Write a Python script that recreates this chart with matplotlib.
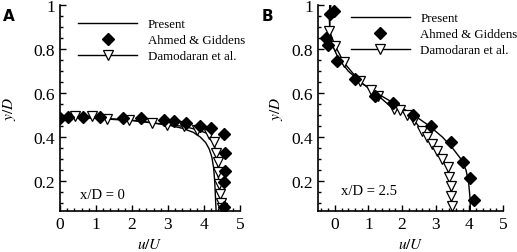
import numpy as np
import matplotlib.pyplot as plt
from matplotlib.ticker import MultipleLocator, FormatStrFormatter
from matplotlib.lines import Line2D

plt.rcParams['font.family'] = 'Liberation Serif'
plt.rcParams['mathtext.fontset'] = 'stix'

# panel A, x/D = 0
present_a_x = [0, 0.5, 1, 1.5, 2, 2.5, 3, 3.4, 3.7, 3.9, 4.05, 4.15, 4.22, 4.27, 4.3, 4.32, 4.34]
present_a_y = [0.49, 0.488, 0.485, 0.48, 0.475, 0.467, 0.455, 0.44, 0.422, 0.40, 0.375, 0.345, 0.31, 0.26, 0.2, 0.13, 0.06]
ahmed_a_x = [0, 0.21, 0.65, 1.12, 1.74, 2.25, 2.89, 3.17, 3.49, 3.88, 4.21, 4.56, 4.58, 4.58, 4.56, 4.56]
ahmed_a_y = [0.486, 0.49, 0.49, 0.49, 0.486, 0.486, 0.477, 0.471, 0.462, 0.451, 0.441, 0.414, 0.327, 0.244, 0.194, 0.08]
damo_a_x = [0, 0.42, 0.9, 1.32, 1.91, 2.56, 2.98, 3.44, 3.82, 4.14, 4.28, 4.33, 4.38, 4.39, 4.42, 4.45, 4.47, 4.51]
damo_a_y = [0.497, 0.497, 0.494, 0.484, 0.479, 0.464, 0.456, 0.449, 0.433, 0.414, 0.376, 0.327, 0.285, 0.24, 0.186, 0.141, 0.10, 0.076]

# panel B, x/D = 2.5
present_b_x = [-0.15, -0.16, -0.14, -0.05, 0.1, 0.4, 0.8, 1.3, 1.8, 2.3, 2.8, 3.2, 3.5, 3.75, 3.9, 3.98, 4.02, 4.03]
present_b_y = [1.0, 0.93, 0.87, 0.81, 0.76, 0.70, 0.645, 0.595, 0.55, 0.505, 0.452, 0.40, 0.35, 0.30, 0.25, 0.19, 0.12, 0.06]
ahmed_b_x = [-0.03, -0.13, -0.26, -0.21, 0.07, 0.59, 1.19, 1.74, 2.31, 2.87, 3.44, 3.81, 4.01, 4.14]
ahmed_b_y = [0.974, 0.959, 0.849, 0.818, 0.747, 0.664, 0.588, 0.553, 0.501, 0.451, 0.379, 0.288, 0.214, 0.115]
damo_b_x = [-0.12, -0.16, 0.01, 0.27, 0.74, 1.07, 1.29, 1.75, 1.94, 2.15, 2.34, 2.60, 2.75, 2.90, 3.05, 3.20, 3.35, 3.40, 3.45, 3.45, 3.48]
damo_b_y = [1.0, 0.883, 0.815, 0.739, 0.653, 0.615, 0.588, 0.527, 0.523, 0.50, 0.479, 0.429, 0.399, 0.368, 0.338, 0.30, 0.262, 0.217, 0.179, 0.133, 0.088]

labels = ['Present', 'Ahmed & Giddens', 'Damodaran et al.']

fig = plt.figure(figsize=(5.17, 2.53), dpi=100)
axA = fig.add_axes([0.116, 0.162, 0.348, 0.814])
axB = fig.add_axes([0.615, 0.162, 0.358, 0.814])


def draw(ax, px, py, ax_x, ax_y, dx, dy, xlim, note, note_xy, leg_xy, ypad):
    ax.plot(px, py, color='black', lw=1.0)
    ax.plot(dx, dy, color='black', lw=1.0, marker='v', ms=7, mfc='white',
            mec='black', mew=0.9, markevery=list(range(1, len(dx))))
    ax.plot(ax_x, ax_y, linestyle='none', marker='D', ms=6.3, color='black')
    ax.set_xlim(*xlim)
    ax.set_ylim(0.064, 1.0)
    for s in ['top', 'right']:
        ax.spines[s].set_visible(False)
    for s in ['left', 'bottom']:
        ax.spines[s].set_linewidth(1.2)
    ax.xaxis.set_major_locator(MultipleLocator(1))
    ax.xaxis.set_minor_locator(MultipleLocator(0.2))
    ax.yaxis.set_major_locator(MultipleLocator(0.2))
    ax.yaxis.set_minor_locator(MultipleLocator(0.05))
    ax.yaxis.set_major_formatter(FormatStrFormatter('%g'))
    ax.tick_params(which='both', direction='in', labelsize=12.5, width=1.0)
    ax.tick_params(which='major', length=4)
    ax.tick_params(which='minor', length=2)
    ax.set_xlabel('$u/U$', fontsize=11, labelpad=3.5)
    ax.set_ylabel('$y/D$', fontsize=11, labelpad=ypad)
    ax.text(note_xy[0], note_xy[1], note, fontsize=10.5, va='center')
    handles = [Line2D([], [], color='black', lw=1.0),
               Line2D([], [], linestyle='none', marker='D', ms=6.3, color='black'),
               Line2D([], [], color='black', lw=1.0, marker='v', ms=7,
                      mfc='white', mec='black', mew=0.9)]
    ax.legend(handles, labels,
              loc='upper left', bbox_to_anchor=leg_xy, frameon=False,
              fontsize=9.3, handlelength=4.6, handletextpad=0.8,
              labelspacing=0.3, borderpad=0, borderaxespad=0)


draw(axA, present_a_x, present_a_y, ahmed_a_x, ahmed_a_y, damo_a_x, damo_a_y,
     (0, 5), 'x/D = 0', (0.56, 0.14), (0.10, 0.935), 11)
draw(axB, present_b_x, present_b_y, ahmed_b_x, ahmed_b_y, damo_b_x, damo_b_y,
     (-0.5, 5), 'x/D = 2.5', (0.18, 0.155), (0.177, 0.965), 5)

fig.text(0.006, 0.965, 'A', fontsize=11, fontweight='bold', family='DejaVu Sans', va='top')
fig.text(0.506, 0.965, 'B', fontsize=11, fontweight='bold', family='DejaVu Sans', va='top')

fig.savefig('out.png', dpi=100)
